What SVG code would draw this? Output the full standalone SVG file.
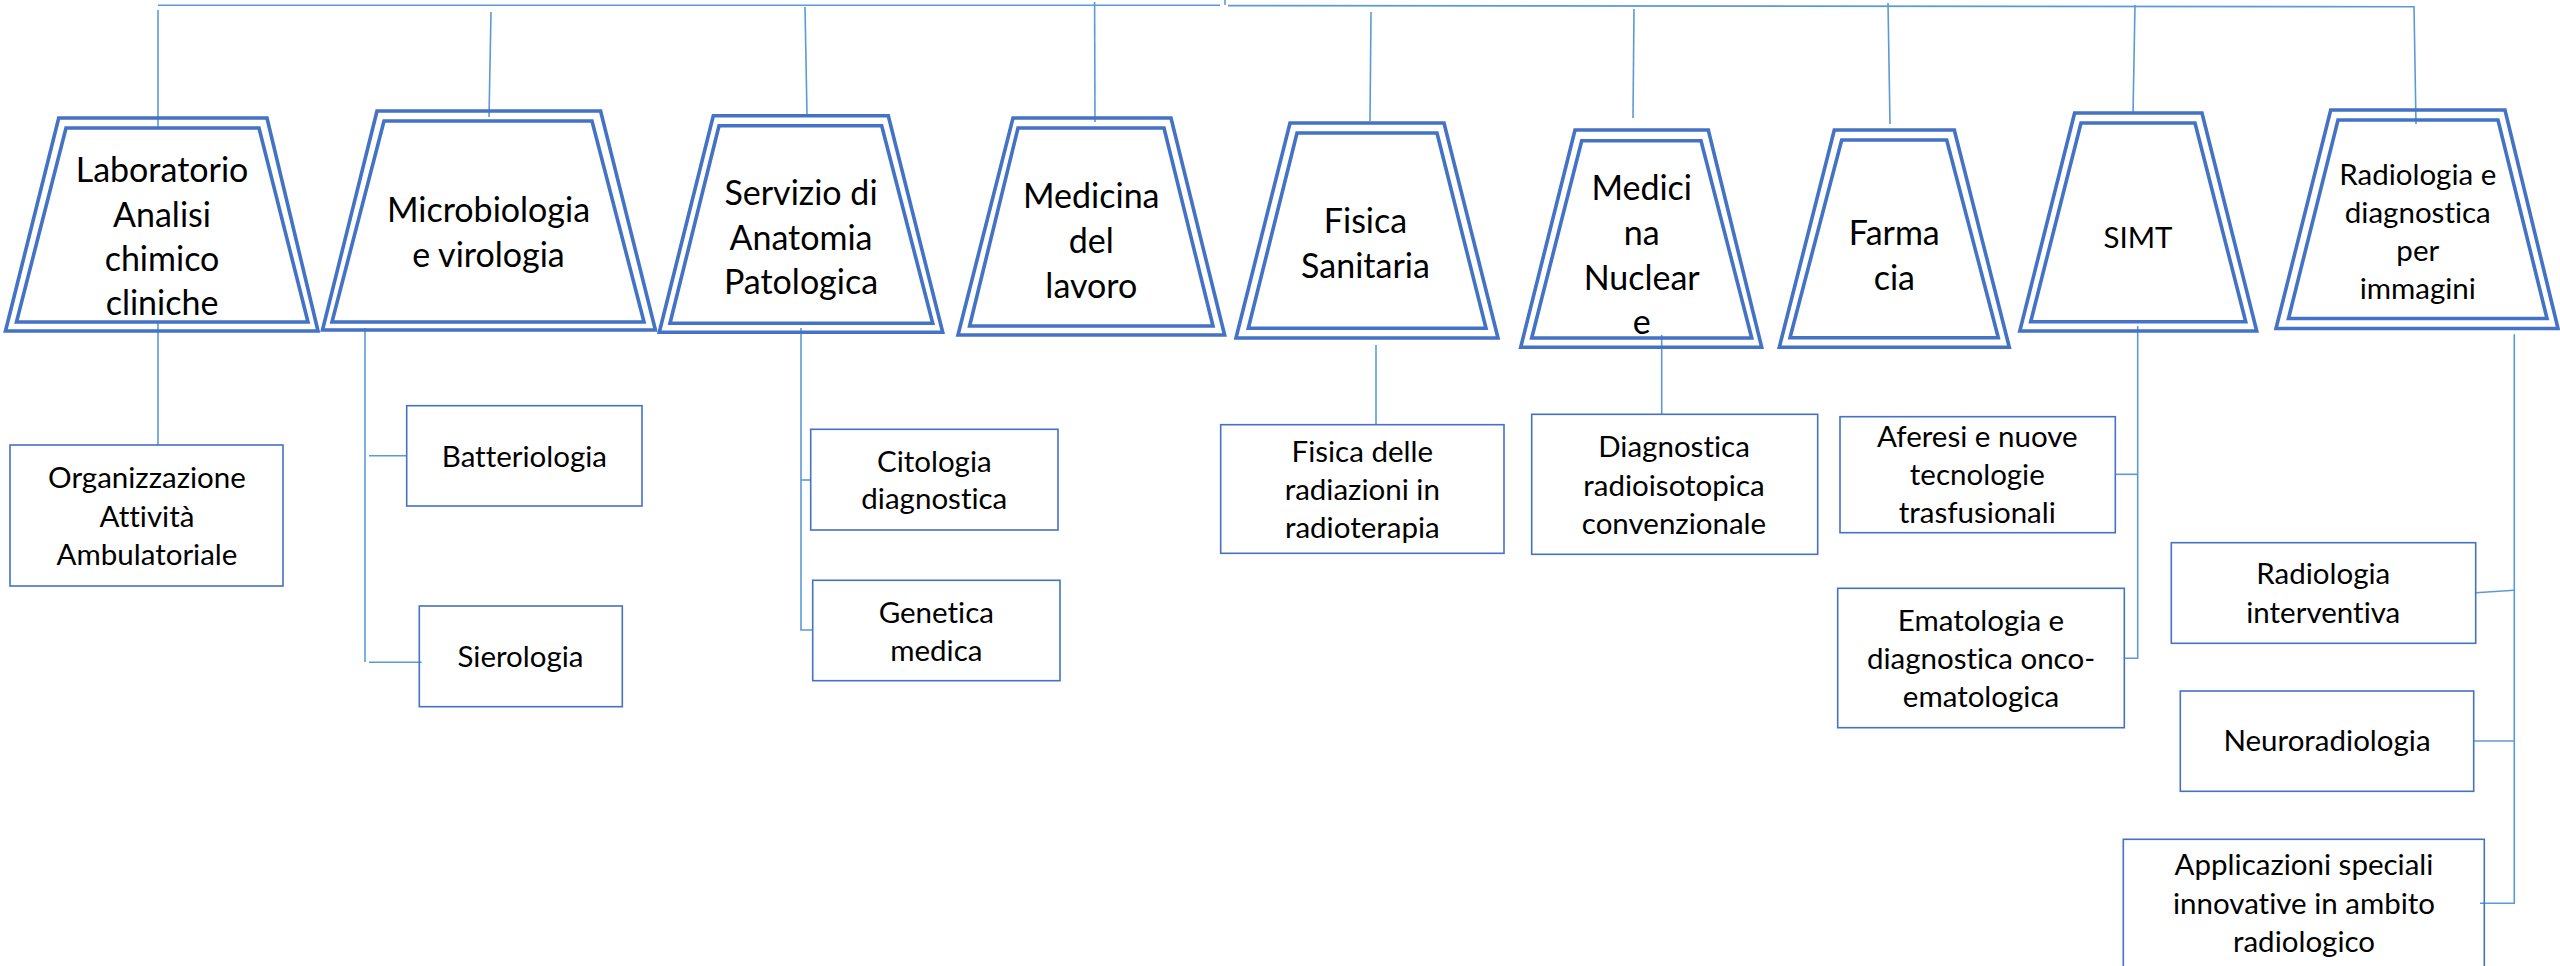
<svg xmlns="http://www.w3.org/2000/svg" width="2560" height="966" viewBox="0 0 2560 966">
<style>
.bg{fill:#ffffff}
.tz{fill:none;stroke:#4472C4;stroke-width:3.6;stroke-linejoin:miter}
.bx{fill:none;stroke:#4472C4;stroke-width:1.6}
.cn{fill:none;stroke:#5B9BD5;stroke-width:1.6}
.t1{font-family:Lato,"Liberation Sans",sans-serif;font-size:34px;fill:#000;text-anchor:middle;font-variant-ligatures:none}
.t2{font-family:Lato,"Liberation Sans",sans-serif;font-size:29.5px;fill:#000;text-anchor:middle;font-variant-ligatures:none}
</style>
<rect class="bg" x="0" y="0" width="2560" height="966"/>

<g id="connectors">
  <polyline class="cn" points="158,5.3 1220,5.3"/>
  <polyline class="cn" points="1228,5.6 2414,6.7 2416,124"/>
  <line class="cn" x1="1225" y1="0" x2="1225" y2="5"/>
  <line class="cn" x1="158" y1="10" x2="158" y2="127"/>
  <line class="cn" x1="491" y1="12" x2="489" y2="117"/>
  <line class="cn" x1="805" y1="7" x2="807" y2="115"/>
  <line class="cn" x1="1094.6" y1="2" x2="1095" y2="122"/>
  <line class="cn" x1="1371" y1="12" x2="1370" y2="121"/>
  <line class="cn" x1="1634" y1="9" x2="1633" y2="118"/>
  <line class="cn" x1="1888" y1="3" x2="1890" y2="124"/>
  <line class="cn" x1="2135" y1="5" x2="2133" y2="114"/>

  <line class="cn" x1="158" y1="321" x2="158" y2="445"/>
  <line class="cn" x1="365" y1="328" x2="365" y2="662"/>
  <line class="cn" x1="369" y1="455.7" x2="406.7" y2="455.7"/>
  <line class="cn" x1="369" y1="662.3" x2="421.7" y2="662.3"/>
  <polyline class="cn" points="801,328 801,630 812.7,630"/>
  <line class="cn" x1="801" y1="480" x2="810.7" y2="480"/>
  <line class="cn" x1="1376" y1="345" x2="1376" y2="424.7"/>
  <line class="cn" x1="1661.7" y1="335" x2="1661.7" y2="414.3"/>
  <polyline class="cn" points="2137.7,326 2137.7,658.3 2125,658.3"/>
  <line class="cn" x1="2116" y1="474.3" x2="2137.7" y2="474.3"/>
  <polyline class="cn" points="2514.3,334.3 2514.3,903.3 2480,903.3"/>
  <line class="cn" x1="2475.7" y1="592.7" x2="2514.3" y2="590.3"/>
  <line class="cn" x1="2473.7" y1="741" x2="2514.3" y2="741"/>
</g>

<g id="node-laboratorio">
  <polygon class="tz" points="58.7,118 267,118 318,331 5.5,331"/>
  <polygon class="tz" points="66,128 259,128 308,322 16.5,322"/>
  <text class="t1" x="162" y="181.7">Laboratorio</text>
  <text class="t1" x="162" y="226.7">Analisi</text>
  <text class="t1" x="162" y="270.7">chimico</text>
  <text class="t1" x="162" y="315">cliniche</text>
</g>
<g id="node-microbiologia">
  <polygon class="tz" points="377,111 600.6,111 655.4,330 322.5,330"/>
  <polygon class="tz" points="384,121 592,121 644,322 332,322"/>
  <text class="t1" x="488.5" y="221.7">Microbiologia</text>
  <text class="t1" x="488.5" y="266.7">e virologia</text>
</g>
<g id="node-anatomia">
  <polygon class="tz" points="713.3,115.7 888.3,115.7 942.7,332.3 659.3,332.3"/>
  <polygon class="tz" points="719,125.7 881.7,125.7 932.7,323.3 670,323.3"/>
  <text class="t1" x="801" y="205">Servizio di</text>
  <text class="t1" x="801" y="250">Anatomia</text>
  <text class="t1" x="801" y="294.3">Patologica</text>
</g>
<g id="node-medicina-lavoro">
  <polygon class="tz" points="1013,118 1171,118 1224.6,335 958,335"/>
  <polygon class="tz" points="1018,128 1164,128 1213,326 969.6,326"/>
  <text class="t1" x="1091.3" y="208.3">Medicina</text>
  <text class="t1" x="1091.3" y="253.3">del</text>
  <text class="t1" x="1091.3" y="298.3">lavoro</text>
</g>
<g id="node-fisica">
  <polygon class="tz" points="1290,123 1444,123 1498,338 1236,338"/>
  <polygon class="tz" points="1297,133 1437,133 1486,328.3 1248.3,328.3"/>
  <text class="t1" x="1365.5" y="233.3">Fisica</text>
  <text class="t1" x="1365.5" y="278.3">Sanitaria</text>
</g>
<g id="node-medicina-nucleare">
  <polygon class="tz" points="1575,130 1708.3,130 1761.7,347.3 1520.7,347.3"/>
  <polygon class="tz" points="1581.7,140.7 1701,140.7 1751.7,338 1531.7,338"/>
  <text class="t1" x="1641.7" y="200">Medici</text>
  <text class="t1" x="1641.7" y="245">na</text>
  <text class="t1" x="1641.7" y="290">Nuclear</text>
  <text class="t1" x="1641.7" y="334">e</text>
</g>
<g id="node-farmacia">
  <polygon class="tz" points="1834.3,130 1954.3,130 2009.3,347.3 1779.3,347.3"/>
  <polygon class="tz" points="1841.7,140 1946.7,140 1998.3,337.7 1790,337.7"/>
  <text class="t1" x="1894.3" y="245">Farma</text>
  <text class="t1" x="1894.3" y="290">cia</text>
</g>
<g id="node-simt">
  <polygon class="tz" points="2074.6,113 2202,113 2256.7,331 2019.8,331"/>
  <polygon class="tz" points="2081,123 2195,123 2245.7,321.7 2030.7,321.7"/>
  <text class="t2" x="2138" y="248.3">SIMT</text>
</g>
<g id="node-radiologia">
  <polygon class="tz" points="2330.7,110 2505,110 2558,328.5 2276,328.5"/>
  <polygon class="tz" points="2338,120 2498,120 2547,318.5 2288.5,318.5"/>
  <text class="t2" x="2417.8" y="185">Radiologia e</text>
  <text class="t2" x="2417.8" y="222.7">diagnostica</text>
  <text class="t2" x="2417.8" y="260.7">per</text>
  <text class="t2" x="2417.8" y="299">immagini</text>
</g>

<g id="node-organizzazione">
  <rect class="bx" x="10" y="445" width="273" height="141"/>
  <text class="t2" x="147" y="487.7">Organizzazione</text>
  <text class="t2" x="147" y="526.7">Attività</text>
  <text class="t2" x="147" y="565">Ambulatoriale</text>
</g>
<g id="node-batteriologia">
  <rect class="bx" x="406.7" y="405.7" width="235.3" height="100.3"/>
  <text class="t2" x="524.4" y="466.7">Batteriologia</text>
</g>
<g id="node-sierologia">
  <rect class="bx" x="419.3" y="606" width="203" height="100.7"/>
  <text class="t2" x="520.5" y="667.3">Sierologia</text>
</g>
<g id="node-citologia">
  <rect class="bx" x="810.7" y="429.3" width="247.3" height="100.7"/>
  <text class="t2" x="934.3" y="471.7">Citologia</text>
  <text class="t2" x="934.3" y="509.3">diagnostica</text>
</g>
<g id="node-genetica">
  <rect class="bx" x="812.7" y="580.3" width="247.3" height="100.4"/>
  <text class="t2" x="936.3" y="622.7">Genetica</text>
  <text class="t2" x="936.3" y="660.7">medica</text>
</g>
<g id="node-fisica-radiazioni">
  <rect class="bx" x="1220.7" y="424.7" width="283.3" height="128.6"/>
  <text class="t2" x="1362.3" y="461.7">Fisica delle</text>
  <text class="t2" x="1362.3" y="500">radiazioni in</text>
  <text class="t2" x="1362.3" y="538.3">radioterapia</text>
</g>
<g id="node-diagnostica-radioisotopica">
  <rect class="bx" x="1531.7" y="414.3" width="286" height="140"/>
  <text class="t2" x="1674" y="456.7">Diagnostica</text>
  <text class="t2" x="1674" y="495.5">radioisotopica</text>
  <text class="t2" x="1674" y="533.7">convenzionale</text>
</g>
<g id="node-aferesi">
  <rect class="bx" x="1840" y="416.7" width="275.3" height="116"/>
  <text class="t2" x="1977.3" y="446.7">Aferesi e nuove</text>
  <text class="t2" x="1977.3" y="485">tecnologie</text>
  <text class="t2" x="1977.3" y="522.7">trasfusionali</text>
</g>
<g id="node-ematologia">
  <rect class="bx" x="1837.7" y="588.3" width="286.6" height="139.4"/>
  <text class="t2" x="1981" y="630.7">Ematologia e</text>
  <text class="t2" x="1981" y="669.3">diagnostica onco-</text>
  <text class="t2" x="1981" y="707.3">ematologica</text>
</g>
<g id="node-radiologia-interventiva">
  <rect class="bx" x="2171.3" y="542.7" width="304.4" height="100.6"/>
  <text class="t2" x="2323.3" y="584.3">Radiologia</text>
  <text class="t2" x="2323.3" y="623.3">interventiva</text>
</g>
<g id="node-neuroradiologia">
  <rect class="bx" x="2180.3" y="691" width="293.4" height="100.3"/>
  <text class="t2" x="2327" y="751">Neuroradiologia</text>
</g>
<g id="node-applicazioni">
  <rect class="bx" x="2123.3" y="839.3" width="361" height="150"/>
  <text class="t2" x="2304" y="875">Applicazioni speciali</text>
  <text class="t2" x="2304" y="914">innovative in ambito</text>
  <text class="t2" x="2304" y="951.7">radiologico</text>
</g>
</svg>
